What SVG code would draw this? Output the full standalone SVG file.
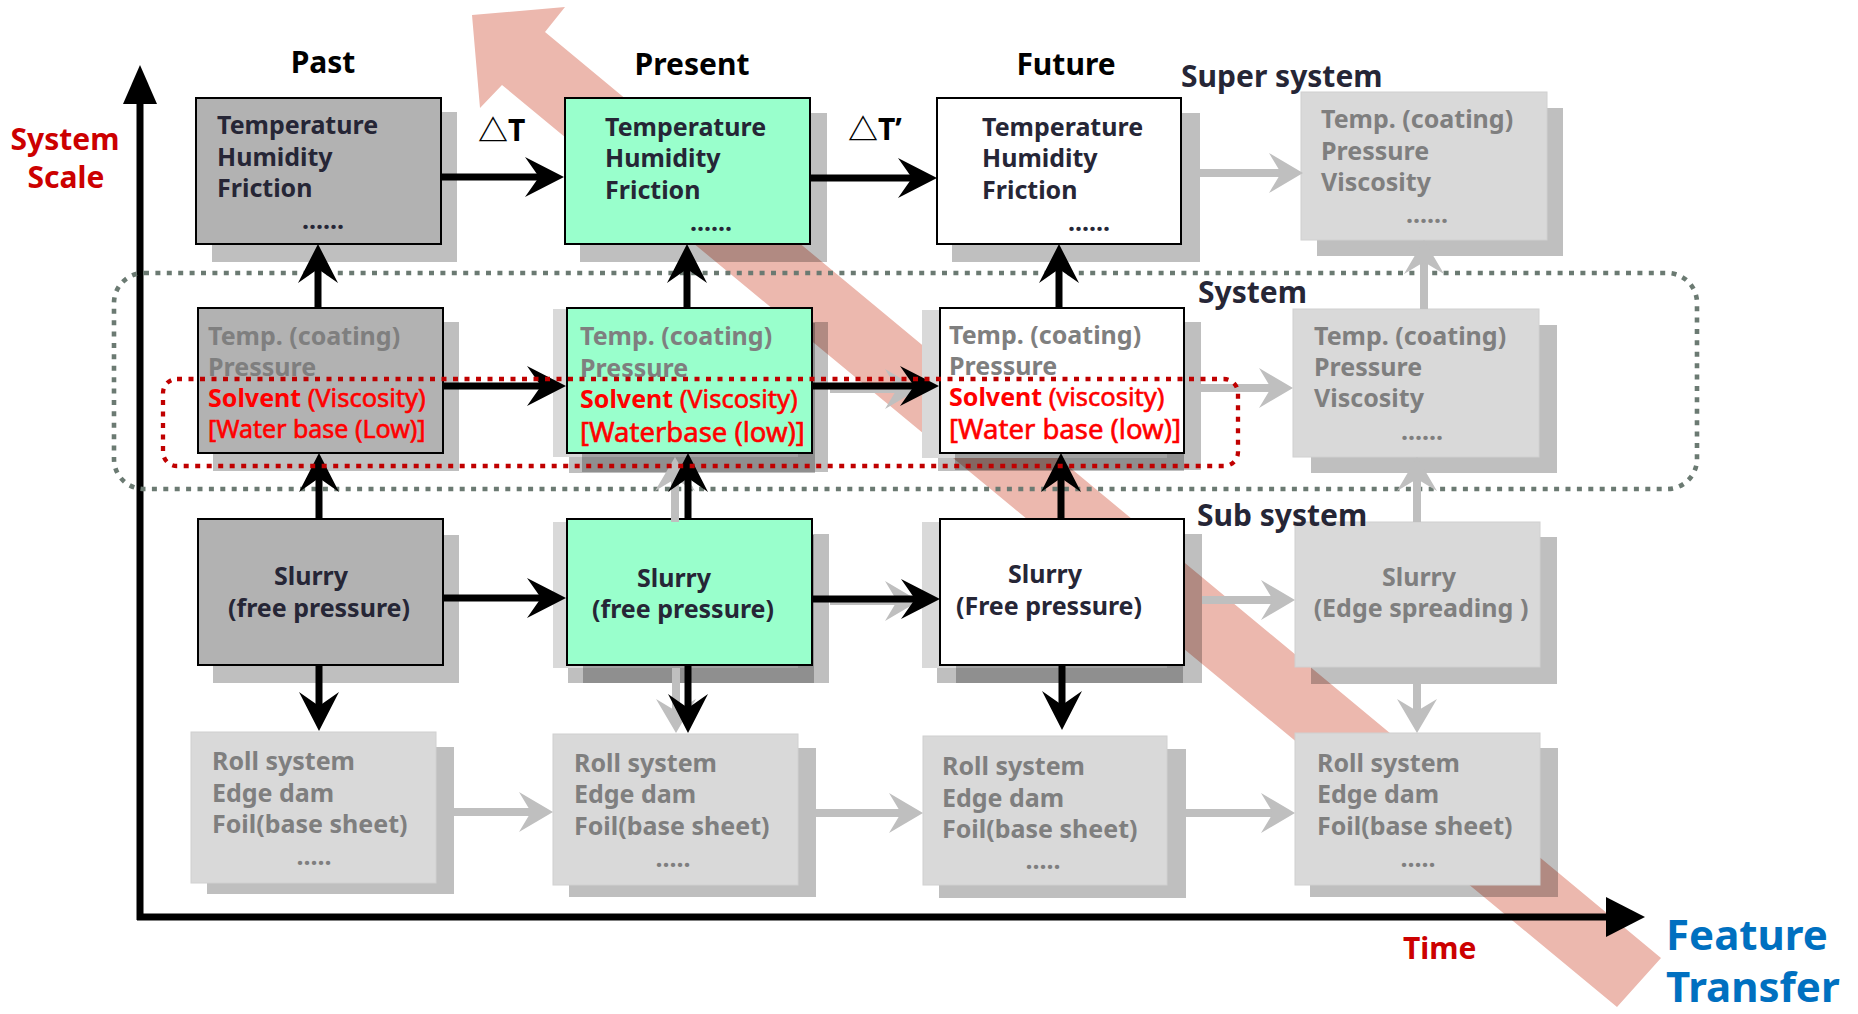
<svg xmlns="http://www.w3.org/2000/svg" width="1858" height="1014" viewBox="0 0 1858 1014">
<defs>
<style>
text{font-family:'Noto Sans','Noto Sans CJK KR',sans-serif;}
.b{font-weight:bold;font-size:25px;fill:#262636}
.g{font-weight:bold;font-size:25px;fill:#7f7f7f}
.g4{font-weight:bold;font-size:25px;fill:#7f7f7f}
.r{fill:#ff0000;font-size:25px;font-weight:bold}
.rn{font-weight:normal;font-size:25.5px;stroke:#ff0000;stroke-width:0.6}
.rb{font-weight:normal;font-size:27.5px;fill:#ff0000;stroke:#ff0000;stroke-width:0.6}
.rs{font-weight:normal;font-size:25px;fill:#ff0000;stroke:#ff0000;stroke-width:0.6}
.dt{font-weight:bold;font-size:25px;text-anchor:middle}
.sh{fill:#000;fill-opacity:0.25}
.gh{fill:#d9d9d9}
.bx{stroke:#000;stroke-width:2}
.lg{fill:#d9d9d9;stroke:#d0d0d0;stroke-width:1}
.hd{font-weight:bold;font-size:30px;fill:#000;text-anchor:middle}
.lb{font-weight:bold;font-size:30px;fill:#262636}
.red{font-weight:bold;font-size:30px;fill:#cc0000}
.c{stroke:#000;stroke-width:7;fill:none}
.cg{stroke:#bfbfbf;stroke-width:8;fill:none}
.mid{text-anchor:middle}
</style>
<marker id="ah" markerUnits="userSpaceOnUse" orient="auto" overflow="visible" markerWidth="1" markerHeight="1" refX="0" refY="0"><path d="M20,0 L-19,-20 L-5,0 L-19,20 Z" fill="#000"/></marker>
<marker id="ag" markerUnits="userSpaceOnUse" orient="auto" overflow="visible" markerWidth="1" markerHeight="1" refX="0" refY="0"><path d="M20,0 L-14,-20 L-2,0 L-14,20 Z" fill="#bfbfbf"/></marker>
</defs>
<rect width="1858" height="1014" fill="#fff"/>

<g id="feature-transfer-band">
<polygon points="472,15 565,7 545,32 1661,958 1617,1007 502,85 480,108" fill="#ecb8ae"/>
</g>

<g id="axes">
<line x1="140" y1="920" x2="140" y2="100" stroke="#000" stroke-width="7"/>
<polygon points="140,65 123,104 157,104" fill="#000"/>
<line x1="137" y1="917" x2="1610" y2="917" stroke="#000" stroke-width="7"/>
<polygon points="1645,917 1606,897 1606,937" fill="#000"/>
</g>

<g id="system-boundary">
<rect x="114" y="273" width="1583" height="216" rx="30" fill="none" stroke="#6b7a72" stroke-width="4.6" stroke-dasharray="5 6.4"/>
</g>

<g id="r1-past">
<rect class="sh" x="212" y="112" width="245" height="150"/>
<rect class="bx" x="196" y="98" width="245" height="146" fill="#b2b2b2"/>
<text class="b" x="217" y="134">Temperature</text>
<text class="b" x="217" y="166">Humidity</text>
<text class="b" x="217" y="197">Friction</text>
<text class="dt" x="323" y="229" fill="#262636">......</text>
</g>
<g id="r1-present">
<rect class="sh" x="580" y="113" width="247" height="149"/>
<rect class="bx" x="565" y="98" width="245" height="146" fill="#99ffcc"/>
<text class="b" x="605" y="136">Temperature</text>
<text class="b" x="605" y="167">Humidity</text>
<text class="b" x="605" y="199">Friction</text>
<text class="dt" x="711" y="231" fill="#262636">......</text>
</g>
<g id="r1-future">
<rect class="sh" x="952" y="113" width="248" height="149"/>
<rect class="bx" x="937" y="98" width="244" height="146" fill="#ffffff"/>
<text class="b" x="982" y="136">Temperature</text>
<text class="b" x="982" y="167">Humidity</text>
<text class="b" x="982" y="199">Friction</text>
<text class="dt" x="1089" y="231" fill="#262636">......</text>
</g>
<g id="r1-super">
<rect class="sh" x="1317" y="108" width="246" height="148"/>
<rect class="lg" x="1301" y="92" width="246" height="148"/>
<text class="g" x="1321" y="128">Temp. (coating)</text>
<text class="g" x="1321" y="160">Pressure</text>
<text class="g" x="1321" y="191">Viscosity</text>
<text class="dt" x="1427" y="223" fill="#7f7f7f">......</text>
</g>

<g id="r2-past">
<rect class="sh" x="213" y="322" width="246" height="149"/>
<rect class="bx" x="198" y="308" width="245" height="145" fill="#b2b2b2"/>
<text class="g" x="208" y="345">Temp. (coating)</text>
<text class="g" x="208" y="376">Pressure</text>
<text class="r" x="208" y="407">Solvent <tspan class="rn">(Viscosity)</tspan></text>
<text class="rs" x="208" y="438">[Water base (Low)]</text>
</g>
<g id="r2-present">
<rect class="sh" x="569" y="323" width="246" height="150"/>
<rect class="gh" x="553" y="309" width="245" height="148"/>
<rect class="sh" x="582" y="322" width="246" height="150"/>
<rect class="bx" x="567" y="308" width="245" height="145" fill="#99ffcc"/>
<text class="g" x="580" y="345">Temp. (coating)</text>
<text class="g" x="580" y="377">Pressure</text>
<text class="r" x="580" y="408">Solvent <tspan class="rn">(Viscosity)</tspan></text>
<text class="rb" x="580" y="442">[Waterbase (low)]</text>
</g>
<g id="r2-future">
<rect class="sh" x="938" y="323" width="246" height="148"/>
<rect class="gh" x="922" y="310" width="245" height="148"/>
<rect class="sh" x="955" y="322" width="246" height="148"/>
<rect class="bx" x="940" y="308" width="244" height="145" fill="#ffffff"/>
<text class="g" x="949" y="344">Temp. (coating)</text>
<text class="g" x="949" y="375">Pressure</text>
<text class="r" x="949" y="406">Solvent <tspan class="rn">(viscosity)</tspan></text>
<text class="rb" x="949" y="439">[Water base (low)]</text>
</g>
<g id="r2-next">
<rect class="sh" x="1311" y="325" width="246" height="148"/>
<rect class="lg" x="1293" y="309" width="246" height="148"/>
<text class="g" x="1314" y="345">Temp. (coating)</text>
<text class="g" x="1314" y="376">Pressure</text>
<text class="g" x="1314" y="407">Viscosity</text>
<text class="dt" x="1422" y="440" fill="#7f7f7f">......</text>
</g>

<g id="r3-past">
<rect class="sh" x="213" y="535" width="246" height="148"/>
<rect class="bx" x="198" y="519" width="245" height="146" fill="#b2b2b2"/>
<text class="b mid" x="311" y="585">Slurry</text>
<text class="b mid" x="319" y="617">(free pressure)</text>
</g>
<g id="r3-present">
<rect class="sh" x="568" y="535" width="246" height="148"/>
<rect class="gh" x="553" y="522" width="245" height="146"/>
<rect class="sh" x="583" y="534" width="246" height="149"/>
<rect class="bx" x="567" y="519" width="245" height="146" fill="#99ffcc"/>
<text class="b mid" x="674" y="587">Slurry</text>
<text class="b mid" x="683" y="618">(free pressure)</text>
</g>
<g id="r3-future">
<rect class="sh" x="937" y="535" width="246" height="148"/>
<rect class="gh" x="922" y="522" width="245" height="146"/>
<rect class="sh" x="956" y="534" width="246" height="149"/>
<rect class="bx" x="940" y="519" width="244" height="146" fill="#ffffff"/>
<text class="b mid" x="1045" y="583">Slurry</text>
<text class="b mid" x="1049" y="615">(Free pressure)</text>
</g>
<g id="r3-next">
<rect class="sh" x="1311" y="537" width="246" height="147"/>
<rect class="lg" x="1295" y="522" width="245" height="145"/>
<text class="g4 mid" x="1419" y="586">Slurry</text>
<text class="g4 mid" x="1421" y="617">(Edge spreading )</text>
</g>

<g id="r4-past">
<rect class="sh" x="207" y="747" width="247" height="147"/>
<rect class="lg" x="191" y="732" width="245" height="151"/>
<text class="g4" x="212" y="770">Roll system</text>
<text class="g4" x="212" y="802">Edge dam</text>
<text class="g4" x="212" y="833">Foil(base sheet)</text>
<text class="dt" x="314" y="865" fill="#7f7f7f">.....</text>
</g>
<g id="r4-present">
<rect class="sh" x="569" y="748" width="247" height="149"/>
<rect class="lg" x="553" y="734" width="245" height="151"/>
<text class="g4" x="574" y="772">Roll system</text>
<text class="g4" x="574" y="803">Edge dam</text>
<text class="g4" x="574" y="835">Foil(base sheet)</text>
<text class="dt" x="673" y="867" fill="#7f7f7f">.....</text>
</g>
<g id="r4-future">
<rect class="sh" x="939" y="749" width="247" height="149"/>
<rect class="lg" x="923" y="736" width="244" height="149"/>
<text class="g4" x="942" y="775">Roll system</text>
<text class="g4" x="942" y="807">Edge dam</text>
<text class="g4" x="942" y="838">Foil(base sheet)</text>
<text class="dt" x="1043" y="869" fill="#7f7f7f">.....</text>
</g>
<g id="r4-next">
<rect class="sh" x="1310" y="748" width="248" height="149"/>
<rect class="lg" x="1295" y="733" width="245" height="152"/>
<text class="g4" x="1317" y="772">Roll system</text>
<text class="g4" x="1317" y="803">Edge dam</text>
<text class="g4" x="1317" y="835">Foil(base sheet)</text>
<text class="dt" x="1418" y="867" fill="#7f7f7f">.....</text>
</g>

<g id="connectors">
<line class="cg" x1="675" y1="522" x2="675" y2="477" marker-end="url(#ag)"/>
<line class="cg" x1="676" y1="668" x2="676" y2="713" marker-end="url(#ag)"/>
<line class="cg" x1="830" y1="389" x2="899" y2="389" marker-end="url(#ag)"/>
<line class="cg" x1="830" y1="601" x2="899" y2="601" marker-end="url(#ag)"/>

<line class="c" x1="441" y1="177" x2="544" y2="177" marker-end="url(#ah)"/>
<line class="c" x1="810" y1="178" x2="917" y2="178" marker-end="url(#ah)"/>
<line class="c" x1="443" y1="386" x2="546" y2="386" marker-end="url(#ah)"/>
<line class="c" x1="812" y1="386" x2="919" y2="386" marker-end="url(#ah)"/>
<line class="c" x1="443" y1="598" x2="546" y2="598" marker-end="url(#ah)"/>
<line class="c" x1="812" y1="599" x2="920" y2="599" marker-end="url(#ah)"/>
<line class="c" x1="318" y1="308" x2="318" y2="264" marker-end="url(#ah)"/>
<line class="c" x1="687" y1="308" x2="687" y2="264" marker-end="url(#ah)"/>
<line class="c" x1="1059" y1="308" x2="1059" y2="264" marker-end="url(#ah)"/>
<line class="c" x1="319" y1="519" x2="319" y2="473" marker-end="url(#ah)"/>
<line class="c" x1="688" y1="519" x2="688" y2="473" marker-end="url(#ah)"/>
<line class="c" x1="1061" y1="519" x2="1061" y2="473" marker-end="url(#ah)"/>
<line class="c" x1="319" y1="665" x2="319" y2="711" marker-end="url(#ah)"/>
<line class="c" x1="688" y1="665" x2="688" y2="713" marker-end="url(#ah)"/>
<line class="c" x1="1062" y1="665" x2="1062" y2="710" marker-end="url(#ah)"/>

<line class="cg" x1="1200" y1="173" x2="1283" y2="173" marker-end="url(#ag)"/>
<line class="cg" x1="1201" y1="388" x2="1273" y2="388" marker-end="url(#ag)"/>
<line class="cg" x1="1202" y1="600" x2="1275" y2="600" marker-end="url(#ag)"/>
<line class="cg" x1="1424" y1="309" x2="1424" y2="260" marker-end="url(#ag)"/>
<line class="cg" x1="1417" y1="522" x2="1417" y2="477" marker-end="url(#ag)"/>
<line class="cg" x1="1417" y1="684" x2="1417" y2="713" marker-end="url(#ag)"/>
<line class="cg" x1="454" y1="812" x2="533" y2="812" marker-end="url(#ag)"/>
<line class="cg" x1="816" y1="813" x2="903" y2="813" marker-end="url(#ag)"/>
<line class="cg" x1="1186" y1="813" x2="1275" y2="813" marker-end="url(#ag)"/>
</g>

<g id="solvent-boundary">
<rect x="163" y="379" width="1075" height="87" rx="14" fill="none" stroke="#c00000" stroke-width="4.3" stroke-dasharray="5 6.5"/>
</g>

<g id="labels">
<text class="red mid" x="65" y="150">System</text>
<text class="red mid" x="66" y="188">Scale</text>
<text class="hd" x="323" y="73">Past</text>
<text class="hd" x="692" y="75">Present</text>
<text class="hd" x="1066" y="75">Future</text>
<text class="lb" x="1181" y="87">Super system</text>
<text class="lb" x="1198" y="303">System</text>
<text class="lb" x="1197" y="526">Sub system</text>
<text x="478" y="141" font-size="30" font-weight="bold" fill="#000">△T</text>
<text x="848" y="140" font-size="30" font-weight="bold" fill="#000">△T’</text>
<text class="red" x="1403" y="959">Time</text>
<text x="1666" y="950" font-size="42" font-weight="bold" fill="#0070c0">Feature</text>
<text x="1666" y="1002" font-size="42" font-weight="bold" fill="#0070c0">Transfer</text>
</g>
</svg>
